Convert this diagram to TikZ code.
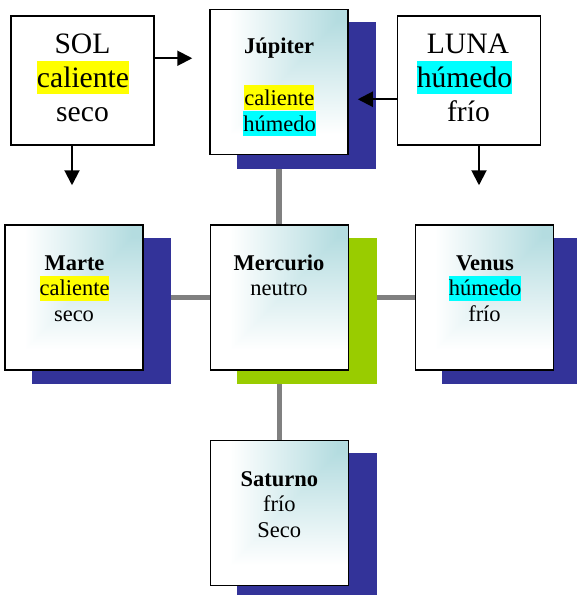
\documentclass[tikz,border=0pt]{standalone}
\usepackage{fontspec}
\setmainfont{Liberation Serif}
\usetikzlibrary{arrows.meta}
\pgfdeclarelayer{background}
\pgfsetlayers{background,main}
\definecolor{shblue}{HTML}{333399}
\definecolor{shgreen}{HTML}{99CC00}
\definecolor{hlyellow}{HTML}{FFFF00}
\definecolor{hlcyan}{HTML}{00FFFF}
\definecolor{linkgray}{HTML}{808080}
% gradient from the upper right corner (teal) to white, rectangular contours
\pgfdeclarefunctionalshading{cornerteal}{\pgfpointorigin}{\pgfpoint{100bp}{100bp}}{}{
  75 exch sub 50 div
  exch 75 exch sub 50 div
  2 copy lt {exch} if pop
  0.08 sub 0.78 div
  dup 0 lt {pop 0} if
  dup 1 gt {pop 1} if
  dup 0.294 mul 0.706 add exch
  dup 0.137 mul 0.863 add exch
  0.122 mul 0.878 add
}
\tikzset{
  plainbox/.style={draw=black, line width=1.5pt, fill=white, minimum width=143pt, minimum height=129pt, inner sep=0pt},
  planet/.style={draw=black, line width=1.5pt, minimum width=138pt, minimum height=145pt, inner sep=0pt,
    shade, shading=cornerteal},
  txt/.style={anchor=base, inner sep=0pt, font=\fontsize{22.5}{26}\selectfont},
  txtb/.style={anchor=base, inner sep=0pt, font=\fontsize{22.5}{26}\selectfont\bfseries},
  big/.style={anchor=base, inner sep=0pt, font=\fontsize{29.6}{34}\selectfont},
  hl/.style={fill=#1, text height=20pt, text depth=4.9pt},
  hlbig/.style={fill=#1, text height=26.4pt, text depth=6.4pt},
  arr/.style={-{Triangle[length=15pt,width=15pt]}, line width=2pt, draw=black},
  link/.style={draw=linkgray, line width=5.5pt},
  shadowfill/.style={fill=#1}
}
\begin{document}
\begin{tikzpicture}[x=1pt,y=-1pt]
\useasboundingbox (0,0) rectangle (577,595);
% boxes
\node[plainbox] (sol) at (82.5,80.5) {};
\node[plainbox] (luna) at (469,80.5) {};
\node[planet] (jup) at (279,82) {};
\node[planet] (marte) at (74,297.5) {};
\node[planet] (merc) at (279.5,297.5) {};
\node[planet] (venus) at (484.5,297.5) {};
\node[planet] (sat) at (279.5,513) {};
% background: links then shadows
\begin{pgfonlayer}{background}
\draw[link] (jup.south) -- (jup.south |- merc.north);
\draw[link] (merc.south) -- (merc.south |- sat.north);
\draw[link] (marte.east) -- (merc.west);
\draw[link] (merc.east) -- (venus.west);
\foreach \b/\c in {jup/shblue, marte/shblue, merc/shgreen, venus/shblue, sat/shblue}{
  \fill[shadowfill=\c] ([shift={(27.5,13.5)}]\b.south west) rectangle ([shift={(27.5,13.5)}]\b.north east);
}
\end{pgfonlayer}
% texts
\node[big] (solA) at (82.5,53.6) {SOL};
\node[big, hlbig=hlyellow] (solB) at (83,87.6) {caliente};
\node[big] (solC) at (82.5,121.6) {seco};
\node[big] (lunaA) at (468,53.6) {LUNA};
\node[big, hlbig=hlcyan] (lunaB) at (464.5,87.6) {húmedo};
\node[big] (lunaC) at (468.5,121.6) {frío};
\node[txtb] (jupA) at (279,53) {Júpiter};
\node[txt, hl=hlyellow] (jupB) at (279.3,105) {caliente};
\node[txt, hl=hlcyan] (jupC) at (279.5,131) {húmedo};
\node[txtb] (marA) at (74.5,270) {Marte};
\node[txt, hl=hlyellow] (marB) at (74.5,295.8) {caliente};
\node[txt] (marC) at (74,321.7) {seco};
\node[txtb] (merA) at (279,270) {Mercurio};
\node[txt] (merB) at (279,295.8) {neutro};
\node[txtb] (venA) at (485,270) {Venus};
\node[txt, hl=hlcyan] (venB) at (485,295.8) {húmedo};
\node[txt] (venC) at (484.5,321.7) {frío};
\node[txtb] (satA) at (279.3,486) {Saturno};
\node[txt] (satB) at (279.3,511.5) {frío};
\node[txt] (satC) at (279.3,537) {Seco};
% arrows
\coordinate (solR) at ([yshift=-43pt]sol.north east);
\draw[arr, shorten >=17pt] (solR) -- (solR -| jup.west);
\coordinate (lunaL) at ([yshift=-84pt]luna.north west);
\draw[arr, shorten >=9pt] (lunaL) -- (lunaL -| jup.east);
\path (sol.south -| marte.north) ++(-2,0) coordinate (solD);
\draw[arr, shorten >=39pt] (solD) -- (solD |- marte.north);
\path (luna.south -| venus.north) ++(-5.5,0) coordinate (lunaD);
\draw[arr, shorten >=39pt] (lunaD) -- (lunaD |- venus.north);
\end{tikzpicture}
\end{document}
